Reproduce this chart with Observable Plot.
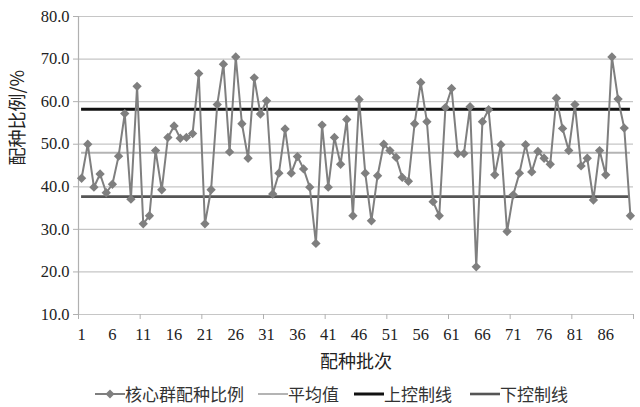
<!DOCTYPE html>
<html>
<head>
<meta charset="utf-8">
<script src="https://cdn.jsdelivr.net/npm/d3@7"></script>
<script src="https://cdn.jsdelivr.net/npm/@observablehq/plot@0.6"></script>
<style>
  html, body { margin: 0; padding: 0; background: #fff; }
  #wrap { position: relative; width: 640px; height: 407px; overflow: hidden; background: #fff; }
  #legend { position: absolute; left: 0; top: 381px; width: 640px; height: 26px;
            font-family: "Noto Sans CJK SC", sans-serif; font-size: 17px; color: #333; line-height: 26px; }
  .item { position: absolute; top: 0; height: 26px; display: flex; align-items: center; white-space: nowrap; }
  .item svg { display: block; }
</style>
</head>
<body>
<div id="wrap">
  <div id="chart"></div>
  <div id="legend"></div>
</div>
<script>
// ---- data ----
const ratios = [
  42.0, 50.0, 39.9, 43.0, 38.6, 40.6, 47.2, 57.2, 37.1, 63.6,
  31.3, 33.2, 48.5, 39.3, 51.6, 54.3, 51.4, 51.6, 52.5, 66.6,
  31.3, 39.3, 59.3, 68.8, 48.2, 70.5, 54.8, 46.7, 65.6, 57.1,
  60.2, 38.3, 43.2, 53.6, 43.2, 47.1, 44.2, 39.9, 26.7, 54.5,
  39.9, 51.6, 45.3, 55.8, 33.2, 60.5, 43.2, 32.0, 42.6, 50.0,
  48.5, 46.9, 42.2, 41.3, 54.8, 64.5, 55.3, 36.5, 33.2, 58.6,
  63.1, 47.8, 47.8, 58.8, 21.2, 55.3, 58.1, 42.8, 49.9, 29.5,
  38.1, 43.2, 49.9, 43.5, 48.3, 46.7, 45.3, 60.8, 53.7, 48.5,
  59.3, 44.9, 46.7, 36.9, 48.5, 42.8, 70.5, 60.6, 53.8, 33.2
];
const batches = ratios.map((_, i) => i + 1);
const meanValue = 48.0;
const upperLimit = 58.2;
const lowerLimit = 37.7;
const yTicks = [10, 20, 30, 40, 50, 60, 70, 80];
const xLabels = [1, 6, 11, 16, 21, 26, 31, 36, 41, 46, 51, 56, 61, 66, 71, 76, 81, 86];
const xTickMarks = [0.5, 10.5, 20.5, 30.5, 40.5, 50.5, 60.5, 70.5, 80.5, 90.5];
const seriesNames = ["核心群配种比例", "平均值", "上控制线", "下控制线"];
const xTitle = "配种批次";
const yTitle = "配种比例/%";

const table = batches.map((b, i) => ({batch: b, ratio: ratios[i]}));
const first = batches[0], last = batches[batches.length - 1];

const serifStack = "'Liberation Serif', 'DejaVu Serif', serif";
const cjk = "Noto Sans CJK SC";

const colSeries = "#7f7f7f", colMean = "#b4b4b4", colUpper = "#111111", colLower = "#555555";

const chart = Plot.plot({
  width: 640,
  height: 378,
  marginLeft: 78,
  marginRight: 7,
  marginTop: 16,
  marginBottom: 64,
  style: {fontSize: "16px", color: "#222", background: "#fff"},
  x: {domain: [0.5, 90.5], axis: null},
  y: {domain: [10, 80], axis: null},
  marks: [
    Plot.gridY(yTicks, {stroke: "#c6c6c6", strokeOpacity: 1, strokeWidth: 1.2}),
    Plot.axisY(yTicks, {tickSize: 5, stroke: "#b0b0b0", tickPadding: 4, tickFormat: d3.format(".1f"),
                        fontSize: 16.5, fill: "#222", label: null}),
    Plot.ruleX([0.5], {stroke: "#b0b0b0", strokeWidth: 1.2}),
    Plot.axisX(xTickMarks, {tickSize: 5, stroke: "#b0b0b0", tickFormat: () => "", label: null}),
    Plot.axisX(xLabels, {tickSize: 0, tickPadding: 14, fontSize: 16.5, fill: "#222", label: null}),
    Plot.ruleY([meanValue], {x1: first, x2: last, stroke: colMean, strokeWidth: 2}),
    Plot.ruleY([upperLimit], {x1: first, x2: last, stroke: colUpper, strokeWidth: 3}),
    Plot.ruleY([lowerLimit], {x1: first, x2: last, stroke: colLower, strokeWidth: 2.6}),
    Plot.line(table, {x: "batch", y: "ratio", stroke: colSeries, strokeWidth: 2}),
    Plot.dot(table, {x: "batch", y: "ratio", symbol: "diamond2", r: 4.2, fill: colSeries, stroke: "none"}),
    Plot.text([xTitle], {frameAnchor: "bottom", dy: 48, fontFamily: cjk, fontSize: 18, fill: "#222", lineAnchor: "middle"}),
    Plot.text([yTitle], {frameAnchor: "left", dx: -60, rotate: -90, fontFamily: cjk, fontSize: 18, fill: "#222", lineAnchor: "middle"})
  ]
});
// numeric tick labels in a serif face (as in the reference)
d3.select(chart).selectAll("text").each(function() {
  if (/^[\d.]+$/.test(this.textContent.trim())) this.style.fontFamily = serifStack;
});
document.getElementById("chart").appendChild(chart);

// ---- legend ----
const legendItems = [
  {name: seriesNames[0], color: colSeries, width: 2, marker: true, left: 95},
  {name: seriesNames[1], color: colMean, width: 2, marker: false, left: 258},
  {name: seriesNames[2], color: colUpper, width: 3, marker: false, left: 354},
  {name: seriesNames[3], color: colLower, width: 2.6, marker: false, left: 470}
];
const legend = document.getElementById("legend");
for (const it of legendItems) {
  const div = document.createElement("div");
  div.className = "item";
  div.style.left = it.left + "px";
  const sw = 30;
  const m = it.marker ? `<path d="M15,8.5 L19.5,13 L15,17.5 L10.5,13 Z" fill="${it.color}"/>` : "";
  div.innerHTML = `<svg width="${sw}" height="26"><line x1="0" x2="${sw}" y1="13" y2="13" stroke="${it.color}" stroke-width="${it.width}"/>${m}</svg><span>${it.name}</span>`;
  legend.appendChild(div);
}
</script>
</body>
</html>
